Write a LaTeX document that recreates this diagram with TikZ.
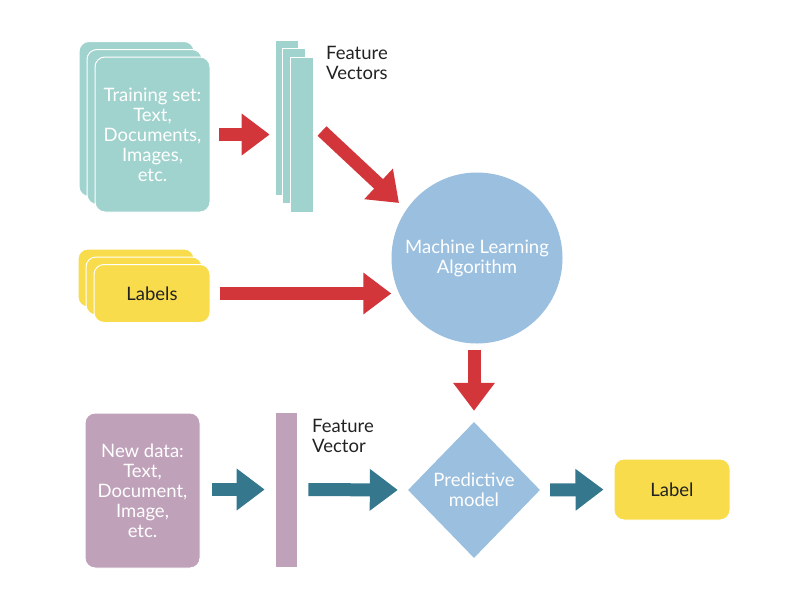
\documentclass[tikz,border=0pt]{standalone}
\usepackage{fontspec}
\setmainfont{Lato}
\usetikzlibrary{arrows.meta,shapes.geometric}
\definecolor{cardteal}{HTML}{A1D3CE}
\definecolor{arrred}{HTML}{D3363A}
\definecolor{circblue}{HTML}{9ABFDF}
\definecolor{cardyel}{HTML}{F8DC4B}
\definecolor{cardpurp}{HTML}{BFA1B9}
\definecolor{arrteal}{HTML}{35788E}
\definecolor{txtdark}{HTML}{222222}
\begin{document}
\begin{tikzpicture}[x=1pt,y=-1pt,
  every node/.style={font=\fontsize{18.5}{20}\selectfont},
  card/.style={draw=white,line width=1pt,fill=#1,rounded corners=10pt,inner sep=0pt},
  bigcard/.style={card=#1,minimum width=115pt,minimum height=155pt},
  smallcard/.style={card=#1,minimum width=116pt,minimum height=58pt},
  vecbar/.style={draw=white,line width=0.6pt,fill=#1,inner sep=0pt,minimum width=23pt,minimum height=155pt},
  wtext/.style={text=white,align=center},
  dtext/.style={text=txtdark,align=center},
  blockarrow/.style={draw=#1,line width=13pt,-{Triangle[length=28pt,width=40pt]}},
]
\useasboundingbox (0,0) rectangle (800,600);

% training set stack
\node[bigcard=cardteal] (tr3) at (136.5,119) {};
\node[bigcard=cardteal] (tr2) at (144.5,127) {};
\node[bigcard=cardteal,wtext] (tr1) at (152.5,134.5) {Training set:\\Text,\\Documents,\\Images,\\etc.};

% feature vectors stack
\node[vecbar=cardteal] (fv3) at (286.5,117.5) {};
\node[vecbar=cardteal] (fv2) at (294,125.5) {};
\node[vecbar=cardteal] (fv1) at (301.5,134.5) {};
\node[dtext,align=left,anchor=west,inner sep=0pt] (fvl) at (326,63) {Feature\\Vectors};

% ML algorithm
\node[circle,fill=circblue,minimum size=171pt,inner sep=0pt,wtext] (ml) at (477,258) {Machine Learning\\Algorithm};

% labels stack
\node[smallcard=cardyel] (lb3) at (136,278) {};
\node[smallcard=cardyel] (lb2) at (144,286) {};
\node[smallcard=cardyel,dtext] (lb1) at (152,293.5) {Labels};

% predictive model
\node[diamond,fill=circblue,minimum width=132pt,minimum height=136pt,inner sep=0pt,wtext] (pm) at (474,490) {Predictive\\model};

% output label
\node[card=cardyel,minimum width=116pt,minimum height=61pt,dtext] (out) at (672,489.5) {Label};

% new data
\node[bigcard=cardpurp,wtext] (nd) at (142.5,490.5) {New data:\\Text,\\Document,\\Image,\\etc.};
\node[vecbar=cardpurp,minimum width=22pt] (nv) at (286,489.5) {};
\node[dtext,align=left,anchor=west,inner sep=0pt] (nvl) at (312,436) {Feature\\Vector};

% red arrows
\draw[blockarrow=arrred,shorten <=8pt,shorten >=5pt] (tr1.east) -- (tr1.east -| fv3.west);
\coordinate (dg1) at (322,131);
\coordinate (dg2) at (399,203);
\draw[blockarrow=arrred] (dg1) -- (dg2);
\draw[blockarrow=arrred,shorten <=9pt,shorten >=0pt] (lb1.east) -- (lb1.east -| ml.west);
\draw[blockarrow=arrred,shorten <=6pt,shorten >=11pt] (ml.south -| pm.north) -- (pm.north);

% teal arrows
\draw[blockarrow=arrteal,shorten <=11pt,shorten >=10pt] (nd.east |- nv.west) -- (nv.west);
\draw[blockarrow=arrteal,shorten <=11pt,shorten >=10pt] (nv.east) -- (pm.west);
\draw[blockarrow=arrteal,shorten <=10pt,shorten >=10pt] (pm.east) -- (out.west);
\end{tikzpicture}
\end{document}
